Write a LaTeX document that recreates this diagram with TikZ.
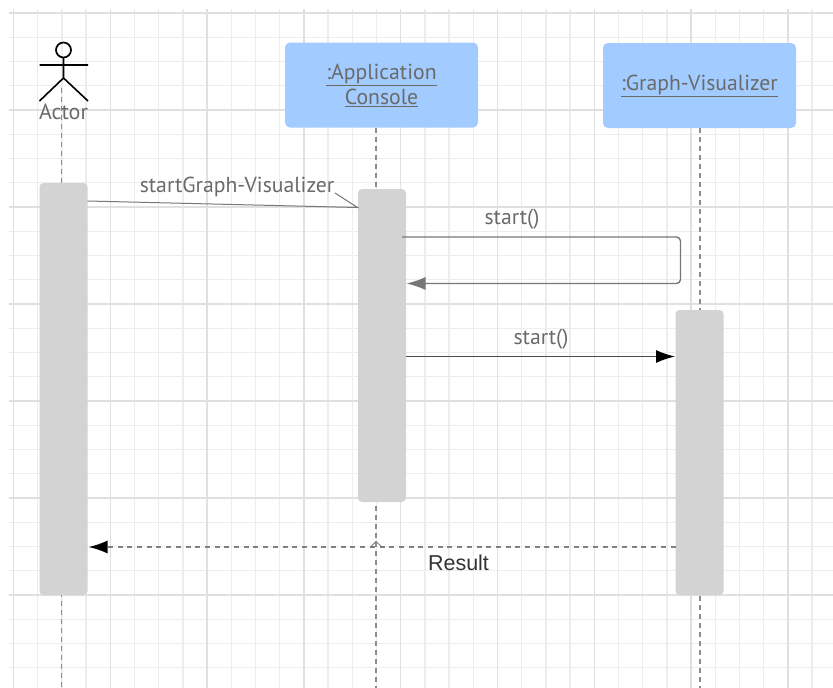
\documentclass[tikz,border=0pt]{standalone}
\usepackage{fontspec}
\setmainfont{PT Sans}
\newfontfamily\resultfont{Liberation Sans}
\usetikzlibrary{arrows.meta}
\definecolor{gridmajor}{HTML}{E0E0E0}
\definecolor{gridminor}{HTML}{EDEDED}
\definecolor{boxblue}{HTML}{A2CBFF}
\definecolor{activgray}{HTML}{D3D3D3}
\definecolor{inktext}{HTML}{6A6A6A}
\definecolor{inkline}{HTML}{777777}
\definecolor{lifegray}{HTML}{8C8C8C}
\tikzset{
  x=1pt,y=-1pt,
  object/.style={fill=boxblue,rounded corners=5pt,minimum width=193pt,minimum height=85pt,inner sep=0pt,
    align=center,text=inktext,font=\fontsize{21.7}{25}\selectfont},
  activation/.style={fill=activgray,rounded corners=4pt,minimum width=48pt,inner sep=0pt},
  lifeline/.style={draw=lifegray,line width=1.1pt,dash pattern=on 5pt off 4pt},
  msglabel/.style={text=inktext,inner sep=0pt,font=\fontsize{21.7}{24}\selectfont},
}
\begin{document}
\begin{tikzpicture}
\path[use as bounding box,fill=white] (0,0) rectangle (833,688);
% grid
\foreach \k in {0,...,33}{
  \pgfmathsetmacro{\gx}{13.5+24.2*\k}
  \draw[gridminor,line width=1.4pt] (\gx,9) -- (\gx,688);
}
\foreach \k in {0,...,27}{
  \pgfmathsetmacro{\gy}{13+24.25*\k}
  \draw[gridminor,line width=1.4pt] (9,\gy) -- (833,\gy);
}
\foreach \k in {0,...,8}{
  \pgfmathsetmacro{\gx}{13.5+96.8*\k}
  \draw[gridmajor,line width=1.4pt] (\gx,9) -- (\gx,688);
}
\foreach \k in {0,...,6}{
  \pgfmathsetmacro{\gy}{13+97*\k}
  \draw[gridmajor,line width=1.4pt] (9,\gy) -- (833,\gy);
}
% lifeline ends
\coordinate (actortop) at (61.5,88);
\coordinate (actorbot) at (61.5,688);
\coordinate (apptop) at (376,128);
\coordinate (appbot) at (376,688);
\coordinate (vistop) at (700,128);
\coordinate (visbot) at (700,688);
\draw[lifeline] (actortop) -- (actorbot);
\draw[lifeline] (apptop) -- (appbot);
\draw[lifeline] (vistop) -- (visbot);
% objects
\node[object] (app) at (381.5,85) {\underline{:Application}\\\underline{Console}};
\node[object] (vis) at (699.5,85.5) {\underline{:Graph-Visualizer}};
% activations
\node[activation,minimum height=412pt] (act1) at (63.5,389) {};
\node[activation,minimum height=313pt] (act2) at (382,345.5) {};
\node[activation,minimum height=285pt] (act3) at (699.5,452.5) {};
% actor
\draw[black,line width=1.7pt] (63.5,50) circle (7.5);
\coordinate (neck) at (63.5,57.5);
\coordinate (hip) at (63.5,78);
\coordinate (armL) at (39.5,65);
\coordinate (armR) at (88,65);
\coordinate (legL) at (39.5,101);
\coordinate (legR) at (88,101);
\draw[black,line width=1.6pt] (neck) -- (hip) (armL) -- (armR) (legL) -- (hip) -- (legR);
\node[text=inktext,inner sep=0pt,font=\fontsize{22}{24}\selectfont] (actorlabel) at (63.5,112) {Actor};
% messages
\coordinate (m1a) at (87.5,201);
\coordinate (m1b) at (357.5,207.5);
\coordinate (m1t) at (335,193);
\draw[inkline,line width=1pt] (m1a) -- (m1b) -- (m1t);
\node[msglabel] (m1l) at (237,186.5) {startGraph-Visualizer};
\coordinate (m2a) at (402,237);
\coordinate (m2c) at (680.5,237);
\coordinate (m2d) at (680.5,283.5);
\coordinate (m2b) at (406.5,283.5);
\draw[inkline,line width=1.4pt,rounded corners=4pt,-{Latex[length=19pt,width=13pt]}] (m2a) -- (m2c) -- (m2d) -- (m2b);
\node[msglabel] (m2l) at (512,219.5) {start()};
\coordinate (m3a) at (406,356.5);
\coordinate (m3b) at (675,356.5);
\draw[line width=1.4pt,draw=black!70,-{Latex[length=19pt,width=13pt,black]}] (m3a) -- (m3b);
\node[msglabel] (m3l) at (541,339.5) {start()};
\coordinate (m4a) at (675.5,547);
\coordinate (m4b) at (88.5,547);
\draw[black!50,line width=1.7pt,dash pattern=on 5pt off 4.7pt,-{Latex[length=19pt,width=13pt,black]}] (m4a) -- (m4b);
\coordinate (tickL) at (370.5,547);
\coordinate (tickT) at (376,541.5);
\coordinate (tickR) at (382,547);
\draw[inkline,line width=0.8pt] (tickL) -- (tickT) -- (tickR);
\node[text=black!80,inner sep=0pt,font=\resultfont\fontsize{21.5}{24}\selectfont] (m4l) at (458.5,563) {Result};
\end{tikzpicture}
\end{document}
